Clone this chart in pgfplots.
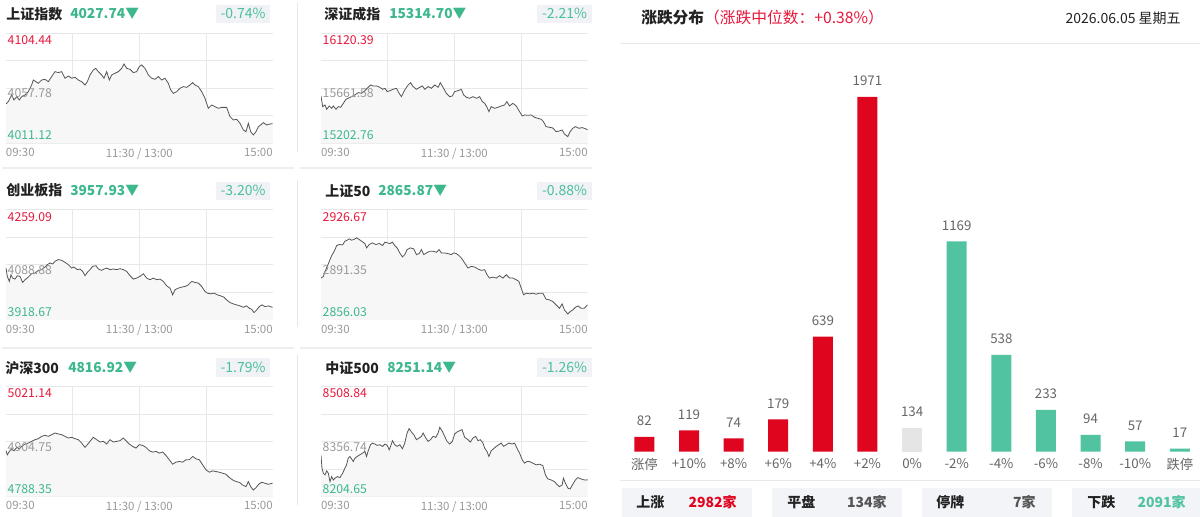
\documentclass[border=0pt]{standalone}
\usepackage{fontspec}
\setmainfont{Noto Sans CJK SC}
\usepackage{pgfplots}
\pgfplotsset{compat=1.18}
\usepackage{pgfplotstable}

\definecolor{upred}{HTML}{E0051F}
\definecolor{dngreen}{HTML}{52C3A1}
\definecolor{flatgray}{HTML}{E5E5E5}
\definecolor{txtred}{HTML}{E8173C}
\definecolor{txtgreen}{HTML}{3DB88C}
\definecolor{pctgreen}{HTML}{4CBF9C}
\definecolor{pctbg}{HTML}{F0F2F5}
\definecolor{axgray}{HTML}{999999}
\definecolor{gridc}{HTML}{E8E8E8}
\definecolor{linec}{HTML}{555555}
\definecolor{boxbg}{HTML}{F2F4F8}
\definecolor{dark}{HTML}{222222}
\definecolor{midgray}{HTML}{666666}
\definecolor{sepc}{HTML}{EEEEEE}

\newcommand\fs[1]{\fontsize{#1}{#1}\selectfont}

\pgfplotstableread{
t v
0 4044.5
2.1 4046.5
5.1 4052.1
7.2 4047.9
9.6 4050.7
12 4047.9
14.1 4050.7
17.1 4052.1
20.1 4054.9
23.1 4060.6
24.6 4064.8
27 4063.4
29.1 4062.0
32.1 4064.8
35.1 4065.4
38.1 4063.4
41.1 4067.7
44.1 4071.9
47.1 4071.1
50.1 4071.9
53.1 4066.3
56.1 4068.2
59.1 4066.3
62.1 4067.1
65.1 4064.8
68.1 4063.4
71.1 4060.6
73.2 4063.4
75.6 4069.1
78.6 4073.3
80.7 4074.7
83.1 4071.9
86.1 4069.1
88.2 4066.3
90.6 4071.9
93 4064.8
95.1 4069.1
98.1 4070.5
101.1 4071.9
104.1 4074.7
106.2 4078.4
108.6 4074.7
111.6 4073.9
114.6 4071.1
117.6 4071.9
120 4076.2
122.1 4077.6
125.1 4074.7
128.1 4069.1
131.1 4066.3
134.1 4065.4
137.1 4067.7
140.1 4064.8
143.1 4066.3
146.1 4062.0
148.2 4056.4
150.6 4053.5
153.6 4054.9
156.6 4057.8
159.6 4059.2
162.6 4058.6
165.6 4060.6
168 4062.6
170.1 4060.6
173.1 4059.2
176.1 4054.9
179.1 4049.3
182.1 4040.8
185.1 4043.6
188.1 4042.2
191.1 4040.8
194.1 4041.6
198.6 4041.6
201.6 4033.7
204.6 4030.9
207.6 4031.5
210.6 4028.1
213.6 4022.4
216 4021.0
218.1 4028.1
220.2 4021.0
222.6 4018.2
225 4021.0
227.1 4025.2
229.2 4026.7
231.6 4028.6
234.6 4026.7
237.6 4027.5
240 4027.74
}\dataA

\pgfplotstableread{
t v
0 15597.6
1.5 15508.6
3.6 15522.5
5.1 15486.4
7.5 15514.2
9.6 15494.7
11.1 15514.2
13.5 15486.4
15.6 15508.6
17.7 15503.1
20.1 15536.5
22.4 15569.8
24.5 15578.2
27.5 15592.1
30.5 15606.0
33.5 15625.4
36.5 15619.9
39.5 15642.1
42.5 15669.9
44.6 15689.4
47.0 15681.0
50.0 15681.0
53.0 15669.9
55.4 15653.2
57.5 15661.6
59.6 15633.8
62.0 15642.1
64.9 15653.2
67.9 15661.6
70.3 15619.9
72.4 15592.1
75.4 15647.7
78.4 15689.4
80.5 15708.9
82.9 15675.5
85.9 15653.2
88.9 15669.9
91.3 15681.0
93.4 15653.2
96.4 15675.5
99.4 15661.6
102.4 15689.4
105.4 15669.9
107.4 15708.9
109.8 15669.9
112.8 15619.9
115.8 15592.1
118.2 15597.6
120.3 15633.8
123.3 15642.1
126.3 15653.2
128.4 15606.0
130.8 15586.5
133.8 15578.2
136.8 15592.1
139.8 15578.2
142.8 15592.1
145.2 15550.4
147.3 15536.5
149.4 15503.1
151.1 15466.9
153.2 15508.6
156.2 15494.7
159.2 15503.1
162.2 15514.2
165.2 15522.5
167.3 15550.4
169.7 15514.2
172.7 15536.5
175.7 15514.2
178.7 15466.9
181.1 15430.8
183.2 15439.1
186.2 15436.3
189.2 15439.1
192.2 15419.7
195.1 15411.3
198.1 15403.0
200.2 15383.5
202.6 15341.8
205.6 15336.2
208.6 15330.7
211.6 15300.1
214.6 15305.7
217.0 15314.0
219.1 15280.6
222.1 15258.4
224.2 15300.1
226.6 15327.9
229.0 15341.8
232.0 15327.9
235.0 15333.5
237.9 15325.1
240 15314.70
}\dataB

\pgfplotstableread{
t v
0 4079.5
1.2 4053.6
3 4038.0
4.5 4058.8
6 4048.4
8.1 4045.3
10.2 4055.7
12.6 4053.6
15 4034.9
17.1 4043.2
20.1 4051.5
23.1 4061.9
26.1 4064.0
29.1 4072.3
32.1 4074.4
35.1 4082.7
37.2 4089.9
39.6 4095.1
42 4092.0
44.1 4100.3
47.1 4105.5
50.1 4103.4
53.1 4097.2
56.1 4089.9
59.1 4079.5
61.2 4082.7
64.2 4074.4
66.6 4076.4
69 4069.2
71.1 4055.7
73.2 4066.1
75.6 4074.4
78 4084.7
81 4086.8
83.1 4076.4
86.1 4072.3
88.2 4076.4
90.6 4079.5
93.6 4074.4
96.6 4076.4
99.6 4074.4
102.6 4077.5
105.6 4074.4
108.6 4069.2
111.6 4055.7
114.6 4045.3
117.6 4048.4
120.6 4053.6
123.6 4061.9
126.6 4048.4
129.6 4043.2
132.6 4048.4
135.6 4043.2
138.6 4045.3
141.6 4038.0
144.6 4024.5
147.6 4017.3
150 3996.5
152.1 4012.1
155.1 4017.3
158.1 4020.4
161.1 4022.5
164.1 4027.6
167.1 4038.0
170.1 4034.9
173.1 4032.8
176.1 4022.5
179.1 4006.9
181.2 4001.7
184.2 3999.6
187.2 4001.7
190.2 3996.5
193.2 3993.4
196.2 3989.2
198.6 3980.9
201.6 3972.6
204.6 3968.5
207.6 3965.4
210.6 3962.3
213.6 3958.1
216.6 3962.3
219 3955.0
221.1 3951.9
223.2 3941.5
225.6 3949.8
228 3960.2
230.4 3965.4
233.1 3960.2
236.1 3962.3
240 3957.93
}\dataC

\pgfplotstableread{
t v
0 2882.95
2.1 2884.03
3.6 2887.26
5.7 2890.49
8.1 2894.80
9.6 2897.38
11.1 2899.10
12.6 2901.26
14.1 2903.84
16.5 2904.49
19.5 2904.27
21.5 2906.64
23.6 2907.29
25.4 2908.15
27.5 2907.29
29.6 2907.72
32.0 2908.79
34.4 2907.72
36.5 2906.64
39.5 2905.13
41.0 2902.33
43.4 2904.49
46.4 2905.56
49.4 2904.49
52.4 2905.13
55.4 2903.84
57.5 2906.00
59.6 2905.56
62.0 2905.13
64.3 2906.00
66.4 2903.84
68.5 2902.33
70.9 2899.10
73.3 2896.52
75.4 2898.03
77.5 2901.26
80.5 2902.33
83.5 2901.69
85.9 2898.03
88.3 2898.67
90.4 2901.26
92.5 2898.03
94.9 2899.10
97.9 2900.18
100.9 2900.18
103.9 2899.53
106.3 2901.26
108.3 2899.10
111.3 2899.10
114.3 2898.67
117.3 2898.03
119.4 2899.10
121.8 2898.67
124.2 2897.38
126.3 2895.87
129.3 2892.64
132.3 2889.41
135.3 2890.49
138.3 2890.06
141.3 2888.76
144.3 2887.90
147.3 2888.33
149.4 2885.10
151.7 2882.95
154.7 2883.60
157.7 2882.95
160.7 2884.46
163.7 2882.95
166.7 2885.10
169.7 2882.95
172.7 2882.95
175.7 2881.87
178.1 2880.80
180.2 2876.49
182.3 2872.18
184.7 2873.26
187.7 2872.83
190.7 2873.26
193.6 2872.61
196.6 2873.26
199.6 2873.26
202.6 2869.38
205.6 2868.95
208.6 2867.87
211.6 2865.72
214.6 2863.57
217.0 2866.37
219.1 2862.49
222.1 2859.91
224.2 2861.41
226.6 2862.49
229.0 2864.21
231.4 2865.07
234.0 2863.57
237.0 2863.57
240 2865.87
}\dataD

\pgfplotstableread{
t v
0 4885.58
1.2 4877.06
3 4884.16
5.1 4889.84
7.2 4885.58
9.6 4892.68
12 4889.84
14.1 4894.81
17.1 4899.78
20.1 4901.91
23.1 4905.45
26.1 4909.00
29.1 4911.13
32.1 4916.10
35.1 4918.23
38.1 4916.10
41.1 4919.65
44.1 4923.20
47.1 4921.07
50.1 4919.65
53.1 4916.10
56.1 4912.55
59.1 4913.97
62.1 4911.13
65.1 4909.00
68.1 4901.91
71.1 4892.68
73.2 4898.36
75.6 4905.45
78.6 4913.97
81.6 4909.00
84.6 4904.03
87.6 4905.45
90.6 4899.78
93.6 4909.00
96.6 4904.03
99.6 4905.45
102.6 4906.87
105.6 4912.55
108 4906.87
111 4899.78
114 4894.81
117 4891.26
120 4898.36
123 4896.94
126 4892.68
129 4885.58
132 4882.74
135 4884.16
138 4880.61
141 4882.74
144 4875.65
147 4866.42
150 4857.19
153 4861.45
156 4862.87
159 4861.45
162 4866.42
165 4866.42
168 4873.52
171 4868.55
174 4866.42
177 4855.77
180 4845.13
183 4840.16
186 4843.00
189 4841.58
192 4840.16
195 4838.03
198 4835.90
201 4828.80
204 4823.84
207 4820.29
210 4818.87
213 4813.19
216 4809.64
218.1 4820.29
220.2 4809.64
222.6 4802.54
225 4807.51
227.4 4814.61
230.1 4818.87
233.1 4816.74
236.1 4814.61
240 4816.92
}\dataE

\pgfplotstableread{
t v
0 8318.72
0.9 8283.48
2.1 8269.57
3.6 8264.93
5.1 8276.06
6.6 8269.57
8.1 8246.38
9.6 8260.29
11.1 8251.02
12.6 8255.66
14.7 8260.29
17.1 8257.51
19.5 8269.57
21.5 8283.48
23.0 8292.75
24.5 8311.30
26.0 8315.94
27.5 8309.45
29.0 8302.03
30.5 8311.30
32.6 8315.94
35.0 8320.58
37.4 8325.21
39.5 8329.85
41.0 8315.94
42.5 8331.70
44.6 8348.40
46.4 8353.04
48.5 8350.25
50.6 8346.54
53.0 8348.40
55.4 8343.76
57.5 8350.25
59.6 8346.54
61.4 8334.49
62.6 8343.76
64.3 8359.53
66.4 8348.40
68.5 8343.76
70.9 8348.40
73.3 8337.27
75.4 8353.04
77.5 8380.86
79.3 8392.91
81.4 8383.64
83.5 8376.22
85.9 8362.31
88.3 8366.95
90.4 8371.58
91.9 8380.86
94.3 8366.95
96.4 8357.67
98.5 8362.31
100.9 8371.58
103.3 8368.80
105.4 8380.86
106.9 8396.62
109.2 8385.49
111.3 8371.58
113.4 8357.67
115.8 8350.25
118.2 8357.67
120.3 8378.08
122.4 8383.64
124.8 8387.35
126.9 8390.13
129.3 8368.80
132.3 8362.31
134.4 8355.82
136.8 8366.95
139.2 8371.58
141.3 8359.53
143.4 8362.31
145.8 8353.04
147.3 8339.12
149.4 8329.85
151.1 8315.94
153.2 8331.70
155.3 8337.27
157.7 8343.76
160.1 8348.40
162.2 8353.04
164.3 8343.76
166.7 8348.40
169.1 8353.04
172.1 8350.25
174.2 8353.04
176.3 8339.12
178.7 8325.21
181.1 8306.66
183.2 8297.39
185.3 8302.03
187.7 8302.03
190.7 8297.39
193.6 8292.75
196.6 8294.61
199.6 8290.90
202.0 8264.93
204.1 8253.80
207.1 8251.02
210.1 8246.38
212.2 8238.96
214.6 8232.47
217.0 8237.11
218.2 8255.66
220.0 8241.75
222.4 8227.83
224.2 8225.98
226.6 8238.96
229.0 8251.02
231.1 8257.51
234.0 8253.80
237.0 8251.02
240 8251.14
}\dataF

\pgfplotsset{
  mini/.style={
    scale only axis, anchor=south west, width=200pt, height=82.5pt,
    xmin=0, xmax=240,
    axis line style={draw=none}, major tick length=0pt,
    scaled y ticks=false, scaled x ticks=false,
    xtick={60,120,180}, xticklabels={},
    yticklabels={},
    ymajorgrids, xmajorgrids,
    major grid style={draw=gridc, line width=0.75pt},
    extra x ticks={0,120,240},
    extra x tick labels={\makebox[0pt][l]{09:30},11:30 / 13:00,\makebox[0pt][r]{15:00}},
    extra x tick style={xmajorgrids=false},
    xticklabel style={font=\fs{8.6pt}, text=axgray},
  }
}

\newcommand\minichart[7]{%
\begin{axis}[mini, at={(#1)}, ymin=#3, ymax=#7, ytick={#3,#4,#5,#6,#7}]
\addplot[draw=none, fill=black!3] table[x=t,y=v]{#2} \closedcycle;
\addplot[linec, line width=0.6pt] table[x=t,y=v]{#2};
\node[anchor=north west, inner sep=0pt, text=txtred, font=\fs{9.2pt}, xshift=1.1pt, yshift=-1.4pt] at (rel axis cs:0,1) {#7};
\node[anchor=north west, inner sep=0pt, text=axgray, font=\fs{9.2pt}, xshift=1.1pt, yshift=-0.3pt] at (rel axis cs:0,0.5) {#5};
\node[anchor=south west, inner sep=0pt, text=txtgreen, font=\fs{9.2pt}, xshift=1.1pt, yshift=2.4pt] at (rel axis cs:0,0) {#3};
\end{axis}}

\begin{document}
\begin{tikzpicture}[x=0.75pt,y=0.75pt]
\path[use as bounding box] (0,0) rectangle (1200,517);
\fill[white] (0,0) rectangle (1200,517);

% separators
\draw[sepc, line width=1.5pt] (2,348.5) -- (294,348.5);
\draw[sepc, line width=1.5pt] (300,348.5) -- (592,348.5);
\draw[sepc, line width=1.5pt] (2,169) -- (294,169);
\draw[sepc, line width=1.5pt] (300,169) -- (592,169);
\draw[gridc, line width=0.75pt] (297,515) -- (297,365);
\draw[gridc, line width=0.75pt] (297,337) -- (297,190);
\draw[gridc, line width=0.75pt] (297,162) -- (297,12);

\coordinate (c1) at (6,373.7);
\coordinate (c2) at (321,373.7);
\coordinate (c3) at (6,197);
\coordinate (c4) at (321,197);
\coordinate (c5) at (6,20.3);
\coordinate (c6) at (321,20.3);

\minichart{c1}{\dataA}{4011.12}{4034.45}{4057.78}{4081.11}{4104.44}
\minichart{c2}{\dataB}{15202.76}{15432.17}{15661.58}{15890.98}{16120.39}
\minichart{c3}{\dataC}{3918.67}{4003.78}{4088.88}{4173.99}{4259.09}
\minichart{c4}{\dataD}{2856.03}{2873.69}{2891.35}{2909.01}{2926.67}
\minichart{c5}{\dataE}{4788.35}{4846.55}{4904.75}{4962.94}{5021.14}
\minichart{c6}{\dataF}{8204.65}{8280.70}{8356.74}{8432.79}{8508.84}

% titles
\tikzset{ttl/.style={anchor=west, inner sep=0pt, font=\fs{10.5pt}\bfseries, text=dark},
         val/.style={anchor=west, inner sep=0pt, font=\fs{10.3pt}\bfseries, text=txtgreen},
         pct/.style={inner sep=0pt, font=\fs{10.5pt}, text=pctgreen}}
\node[ttl] at (6,503) {上证指数};
\node[val] at (70,503) {4027.74▼};
\fill[pctbg] (216,494.3) rectangle (270,512);
\node[pct] at (243,503.2) {-0.74\%};

\node[ttl] at (324,503) {深证成指};
\node[val] at (389,503) {15314.70▼};
\fill[pctbg] (537,494.3) rectangle (592,512);
\node[pct] at (564.5,503.2) {-2.21\%};

\node[ttl] at (6,326.3) {创业板指};
\node[val] at (70,326.3) {3957.93▼};
\fill[pctbg] (216,317) rectangle (270,335.3);
\node[pct] at (243,326.3) {-3.20\%};

\node[ttl] at (325,326.3) {上证50};
\node[val] at (378,326.3) {2865.87▼};
\fill[pctbg] (537,317) rectangle (592,335.3);
\node[pct] at (564.5,326.3) {-0.88\%};

\node[ttl] at (5,149.3) {沪深300};
\node[val] at (68,149.3) {4816.92▼};
\fill[pctbg] (216,140.3) rectangle (270,158.7);
\node[pct] at (243,149.5) {-1.79\%};

\node[ttl] at (325,149.3) {中证500};
\node[val] at (387,149.3) {8251.14▼};
\fill[pctbg] (537,140.3) rectangle (592,158.7);
\node[pct] at (564.5,149.5) {-1.26\%};

% right header
\node[anchor=west, inner sep=0pt, font=\fs{11.8pt}, text=dark] at (641,499) {{\bfseries 涨跌分布}\textcolor{txtred}{（涨跌中位数：+0.38\%）}};
\node[anchor=east, inner sep=0pt, font=\fs{10.5pt}, text=dark] at (1181,499) {2026.06.05 星期五};
\draw[gridc, line width=0.75pt] (620,473) -- (1200,473);
\draw[gridc, line width=0.75pt] (620,36) -- (1200,36);

% bar chart
\coordinate (bc) at (624.3,65.3);
\begin{axis}[scale only axis, anchor=south west, at={(bc)},
  width=431.7pt, height=297pt,
  xmin=-0.45, xmax=12.45, ymin=0, ymax=2200,
  axis line style={draw=none}, major tick length=0pt,
  ytick=\empty, xtick={0,...,12},
  xticklabels={涨停,+10\%,+8\%,+6\%,+4\%,+2\%,0\%,-2\%,-4\%,-6\%,-8\%,-10\%,跌停},
  xticklabel style={font=\fs{10pt}, text=midgray, yshift=-1.5pt},
  /pgf/number format/assume math mode=true,
  /pgf/number format/1000 sep={},
  ybar, bar width=15pt,
  nodes near coords,
  every node near coord/.append style={font=\fs{10pt}, text=midgray, yshift=4.7pt},
]
\addplot[draw=none, fill=upred, bar shift=0pt] coordinates {(0,82) (1,119) (2,74) (3,179) (4,639) (5,1971)};
\addplot[draw=none, fill=flatgray, bar shift=0pt] coordinates {(6,134)};
\addplot[draw=none, fill=dngreen, bar shift=0pt] coordinates {(7,1169) (8,538) (9,233) (10,94) (11,57) (12,17)};
\end{axis}

% footer
\tikzset{fl/.style={anchor=west, inner sep=0pt, font=\fs{10.5pt}\bfseries, text=dark},
         fr/.style={anchor=east, inner sep=0pt, font=\fs{10.5pt}\bfseries}}
\fill[boxbg] (622,0) rectangle (752,29);
\fill[boxbg] (772,0) rectangle (902,29);
\fill[boxbg] (922,0) rectangle (1052,29);
\fill[boxbg] (1072,0) rectangle (1200,29);
\node[fl] at (636,15) {上涨};
\node[fr, text=upred] at (737,15) {2982家};
\node[fl] at (787,15) {平盘};
\node[fr, text=linec] at (887,15) {134家};
\node[fl] at (936,15) {停牌};
\node[fr, text=linec] at (1036,15) {7家};
\node[fl] at (1087,15) {下跌};
\node[fr, text=dngreen] at (1186,15) {2091家};
\end{tikzpicture}
\end{document}
